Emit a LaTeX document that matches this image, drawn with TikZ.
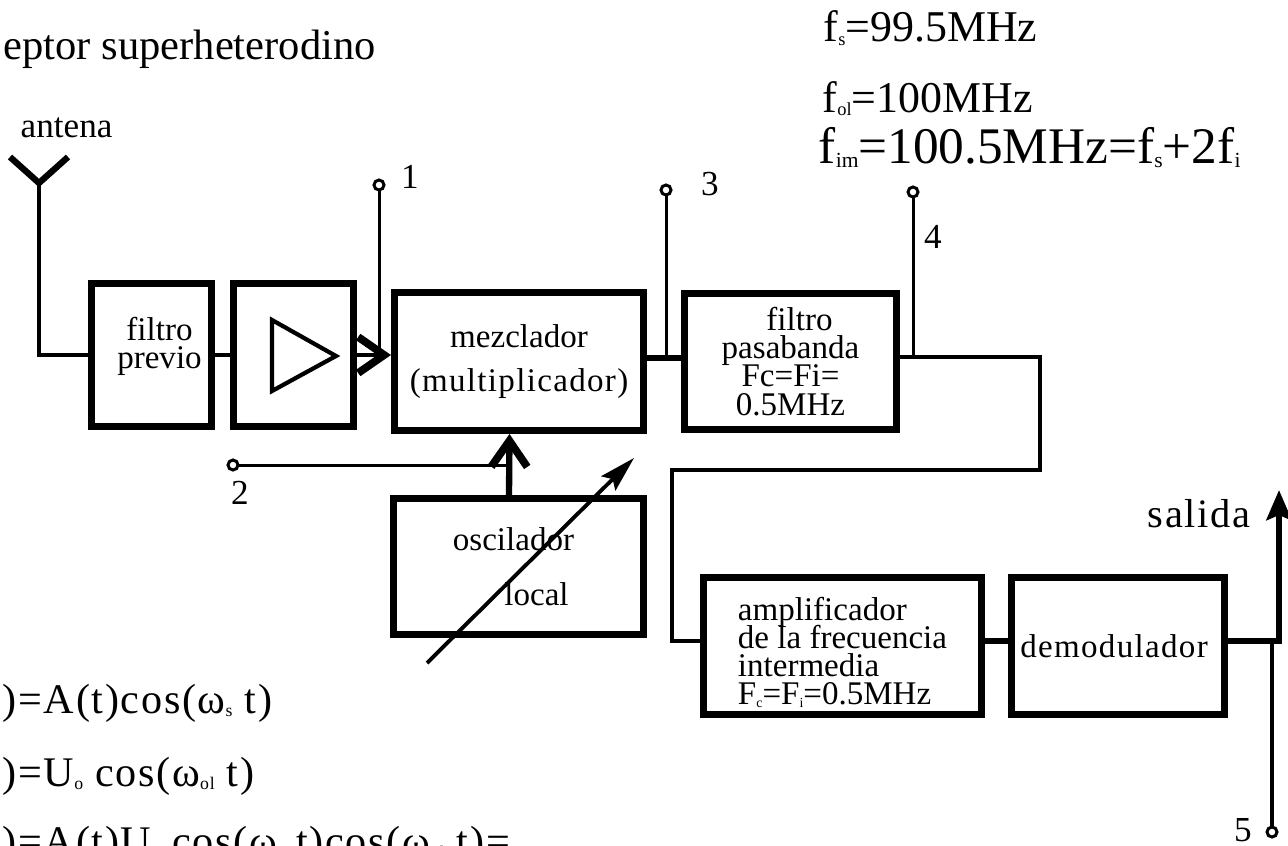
\documentclass[tikz,border=0pt]{standalone}
\usepackage{fontspec}
\setmainfont{Liberation Serif}
\newfontfamily\spaced[LetterSpace=4]{Liberation Serif}
\usetikzlibrary{arrows.meta}
\newcommand{\lowsub}[1]{\raisebox{-.08em}{\scalebox{.42}{#1}}}
\setlength{\lineskiplimit}{-8pt}

\begin{document}
\begin{tikzpicture}[
  box/.style={draw, line width=2pt, inner sep=0pt, align=center, font=\fontsize{9.4}{8}\selectfont},
  wire/.style={line width=1.3pt},
  heavy/.style={line width=1.8pt},
  thinw/.style={line width=.85pt},
  term/.style={circle, draw, line width=.85pt, fill=white, minimum size=.1cm, inner sep=0pt},
  lbl/.style={inner sep=0pt, font=\fontsize{10}{10}\selectfont},
  big/.style={inner sep=0pt, anchor=base west, font=\fontsize{12}{12}\selectfont},
  bar/.style={-{Straight Barb[length=.26cm, width=.36cm, line width=2.2pt]}}
]
\path[use as bounding box, clip] (0,0) rectangle (12.88,8.45);

\node[big, font=\fontsize{12.1}{12}\selectfont] (titulo) at (.03,7.85) {eptor superheterodino};
\node[lbl, anchor=base west] (antena) at (.20,7.08) {antena};
\node[big, font=\fontsize{12.5}{12}\selectfont] (fs) at (8.23,8.03) {f\lowsub{s}=99.5MHz};
\node[big, font=\fontsize{12.5}{12}\selectfont] (fol) at (8.22,7.33) {f\lowsub{ol}=100MHz};
\node[big, font=\fontsize{14.6}{16}\selectfont] (fim) at (8.18,6.82) {f\lowsub{im}=100.5MHz=f\lowsub{s}+2f\lowsub{i}};

\node[box, minimum width=1.20cm, minimum height=1.43cm] (fil) at (1.515,4.90) {\hspace*{.16cm}filtro\\\hspace*{.16cm}previo\\[-.04cm]};
\node[box, minimum width=1.20cm, minimum height=1.43cm] (amp) at (2.935,4.90) {};
\node[box, minimum width=2.49cm, minimum height=1.38cm] (mez) at (5.19,4.835) {mezclador\\[.16cm]{\spaced (multiplicador)}};
\node[box, minimum width=2.50cm, minimum height=1.36cm] (osc) at (5.185,2.785) {oscilador\hspace*{.1cm}\\[.27cm]\hspace*{.36cm}local};
\node[box, minimum width=2.12cm, minimum height=1.36cm] (pas) at (7.905,4.835) {\hspace*{.18cm}filtro\\pasabanda\\Fc=Fi=\\0.5MHz};
\node[box, minimum width=2.78cm, minimum height=1.37cm, align=left] (amf) at (8.425,1.99) {\rule{0pt}{.36cm}amplificador\\de la frecuencia\\intermedia\\F\lowsub{c}=F\lowsub{i}=0.5MHz};
\node[box, minimum width=2.13cm, minimum height=1.37cm, font=\fontsize{9.4}{8}\spaced] (dem) at (11.18,1.99) {demodulador\hspace*{.08cm}};

\node[term] (t1) at (3.79,6.60) {};
\node[term] (t2) at (2.33,3.80) {};
\node[term] (t3) at (6.66,6.55) {};
\node[term] (t4) at (9.13,6.53) {};
\node[term] (t5) at (12.72,.13) {};
\node[lbl] (n1) at (4.10,6.68) {1};
\node[lbl] (n2) at (2.40,3.52) {2};
\node[lbl] (n3) at (7.10,6.61) {3};
\node[lbl] (n4) at (9.33,6.08) {4};
\node[lbl] (n5) at (12.43,.15) {5};
\node[lbl, anchor=base east, font=\fontsize{11.5}{11}\spaced] (salida) at (12.51,3.18) {salida};

\coordinate (antc) at (.39,6.62);
\coordinate (antl) at (.10,6.88);
\coordinate (antr) at (.68,6.88);
\coordinate (j2) at (5.09,3.80);
\coordinate (j3) at (6.66,4.87);
\coordinate (j4) at (9.13,4.88);
\coordinate (b1) at (10.40,3.75);
\coordinate (b2) at (6.72,3.75);
\coordinate (j5) at (12.72,2.05);
\coordinate (out) at (12.79,3.55);
\coordinate (va) at (4.27,1.82);
\coordinate (vb) at (6.34,3.87);

\draw[heavy] (antl) -- (antc) -- (antr);
\draw[wire] (antc) |- (fil.west);
\draw[wire] (fil) -- (amp);
\draw[line width=1.2pt] (2.72,5.25) -- (2.72,4.54) -- (3.36,4.89) -- cycle;
\draw[wire, bar] (amp.east) -- (amp.east -| mez.west);
\draw[thinw] (t1) -- (t1 |- amp.east);
\draw[thinw] (t2) -- (j2);
\draw[heavy, bar] ([xshift=-.095cm]osc.north) -- ([xshift=-.095cm]mez.south);
\draw[heavy] (j3 -| mez.east) -- (j3 -| pas.west);
\draw[thinw] (t3) -- (j3);
\draw[thinw] (t4) -- (j4);
\draw[wire] (j4 -| pas.east) -| (b1) -- (b2) |- ([yshift=.05cm]amf.west);
\draw[heavy] ([yshift=.05cm]amf.east) -- ([yshift=.05cm]dem.west);
\draw[heavy, -{Stealth[length=.3cm, width=.25cm, inset=.05cm]}] ([yshift=.05cm]dem.east) -| (out);
\draw[wire] (t5) -- (j5);
\draw[line width=1.1pt, -{Stealth[length=.36cm, width=.2cm, inset=.06cm]}] (va) -- (vb);

\node[big, font=\fontsize{12}{12}\spaced] (eq1) at (.02,1.32) {)=A(t)cos(ω\lowsub{s} t)};
\node[big, font=\fontsize{12}{12}\spaced] (eq2) at (.02,.59) {)=U\lowsub{o} cos(ω\lowsub{ol} t)};
\node[big, font=\fontsize{12}{12}\spaced] (eq3) at (.02,-.10) {)=A(t)U\lowsub{o} cos(ω\lowsub{s} t)cos(ω\lowsub{ol} t)=};
\end{tikzpicture}
\end{document}
